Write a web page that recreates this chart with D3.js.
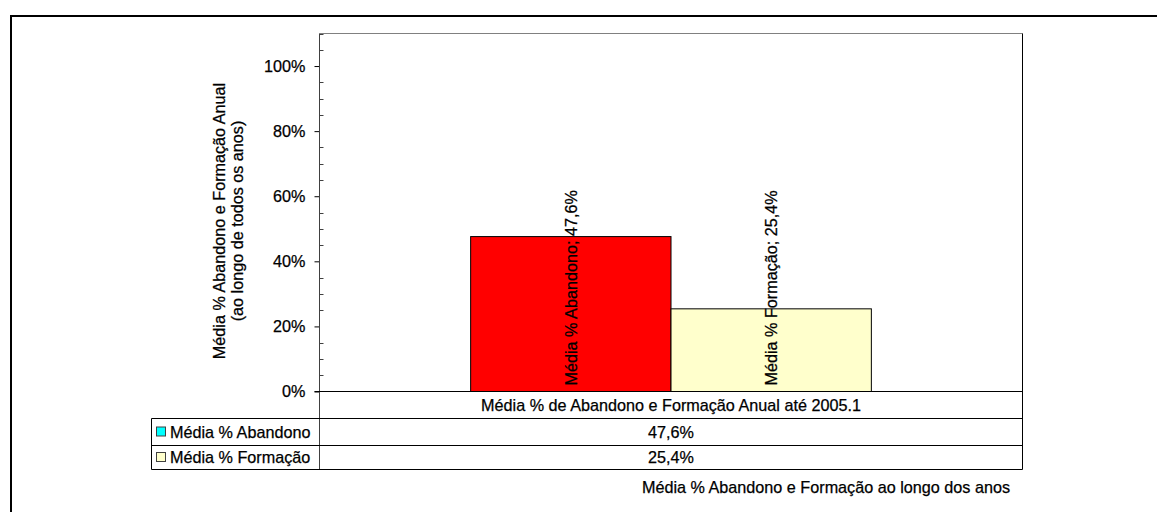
<!DOCTYPE html>
<html>
<head>
<meta charset="utf-8">
<script src="https://cdn.jsdelivr.net/npm/d3@7"></script>
<style>
  html, body { margin: 0; padding: 0; background: #fff; }
  svg { display: block; }
  text { font-family: "Liberation Sans", Arial, sans-serif; fill: #000; stroke: #000; stroke-width: 0.25px; }
</style>
</head>
<body>
<div id="chart"></div>
<script>
// Chart data
const categories = ["Média % de Abandono e Formação Anual até 2005.1"];
const seriesNames = ["Média % Abandono", "Média % Formação"];
const seriesValues = [0.476, 0.254];
const barColors = ["#ff0000", "#ffffcc"];
const legendColors = ["#00ffff", "#ffffcc"];
const yTicks = [0, 0.2, 0.4, 0.6, 0.8, 1.0];
const yTitleLines = ["Média % Abandono e Formação Anual", "(ao longo de todos os anos)"];
const chartTitle = "Média % Abandono e Formação ao longo dos anos";

const W = 1157, H = 512;
const fontSize = 16.2;

// Portuguese number format (decimal comma)
const pt = d3.formatLocale({ decimal: ",", thousands: ".", grouping: [3], currency: ["€", ""] });
const pct1 = pt.format(".1%");
const pct0 = pt.format(".0%");

const svg = d3.select("#chart").append("svg")
  .attr("width", W).attr("height", H);

// Outer frame (top and left edges visible)
svg.append("path")
  .attr("d", `M11,${H} L11,16 L${W},16`)
  .attr("fill", "none").attr("stroke", "#000").attr("stroke-width", 2);

// Plot area
const plot = { left: 319.5, right: 1022.5, top: 33.5, bottom: 391.5 };

const y = d3.scaleLinear().domain([0, 1.1]).range([plot.bottom, plot.top]);

const xCat = d3.scaleBand()
  .domain(categories)
  .range([plot.left, plot.right])
  .paddingInner(0.43)
  .paddingOuter(0.215);

const xSer = d3.scaleBand()
  .domain(seriesNames)
  .range([0, xCat.bandwidth()]);

// Plot area border
svg.append("line")
  .attr("x1", plot.left).attr("x2", plot.right)
  .attr("y1", plot.top).attr("y2", plot.top)
  .attr("stroke", "#808080").attr("stroke-width", 1);
svg.append("line")
  .attr("x1", plot.right).attr("x2", plot.right)
  .attr("y1", plot.top).attr("y2", 469.5)
  .attr("stroke", "#000").attr("stroke-width", 1);

// Bars
const bars = svg.append("g");
categories.forEach(cat => {
  seriesNames.forEach((s, i) => {
    bars.append("rect")
      .attr("x", xCat(cat) + xSer(s))
      .attr("y", y(seriesValues[i]))
      .attr("width", xSer.bandwidth())
      .attr("height", y(0) - y(seriesValues[i]))
      .attr("fill", barColors[i])
      .attr("stroke", "#000")
      .attr("stroke-width", 1);
  });
});

// Data labels, rotated, anchored at the bar base
categories.forEach(cat => {
  seriesNames.forEach((s, i) => {
    const cx = xCat(cat) + xSer(s) + xSer.bandwidth() / 2;
    const by = y(0) - 6;
    svg.append("text")
      .attr("transform", `translate(${cx},${by}) rotate(-90)`)
      .attr("dy", "0.36em")
      .attr("text-anchor", "start")
      .style("font-size", fontSize + "px")
      .text(`${s}; ${pct1(seriesValues[i])}`);
  });
});

// Y axis
const yAxis = d3.axisLeft(y)
  .tickValues(yTicks)
  .tickFormat(pct0)
  .tickSize(5)
  .tickPadding(9);
const gy = svg.append("g")
  .attr("transform", `translate(${plot.left},0)`)
  .call(yAxis);
gy.select(".domain").remove();
gy.selectAll(".tick line").attr("stroke", "#000");
gy.selectAll(".tick text")
  .style("font-size", fontSize + "px")
  .style("font-family", "'Liberation Sans', Arial, sans-serif")
  .attr("fill", "#000");

// Minor ticks
const minor = d3.range(0, 1.1001, 0.05).filter(v => !yTicks.some(t => Math.abs(t - v) < 1e-9));
svg.append("g").selectAll("line").data(minor).join("line")
  .attr("x1", plot.left).attr("x2", plot.left + 4)
  .attr("y1", d => Math.round(y(d)) + 0.5).attr("y2", d => Math.round(y(d)) + 0.5)
  .attr("stroke", "#404040").attr("stroke-width", 1);

// Y axis line (continues into the data table)
svg.append("line")
  .attr("x1", plot.left).attr("x2", plot.left)
  .attr("y1", plot.top).attr("y2", 469.5)
  .attr("stroke", "#404040").attr("stroke-width", 1);

// X axis line
svg.append("line")
  .attr("x1", plot.left - 5).attr("x2", plot.right)
  .attr("y1", plot.bottom).attr("y2", plot.bottom)
  .attr("stroke", "#000").attr("stroke-width", 1);

// Y axis title
const yTitle = svg.append("text")
  .attr("transform", "translate(228,221) rotate(-90)")
  .attr("text-anchor", "middle")
  .style("font-size", fontSize + "px");
yTitle.selectAll("tspan").data(yTitleLines).join("tspan")
  .attr("x", 0)
  .attr("dy", (d, i) => i === 0 ? "-0.2em" : "1.12em")
  .text(d => d);

// Data table
const table = { left: 151.5, split: plot.left, right: plot.right, rows: [plot.bottom, 418.5, 445.5, 469.5] };
const tg = svg.append("g");
// Category row text
tg.append("text")
  .attr("x", xCat(categories[0]) + xCat.bandwidth() / 2)
  .attr("y", (table.rows[0] + table.rows[1]) / 2)
  .attr("dy", "0.36em")
  .attr("text-anchor", "middle")
  .style("font-size", fontSize + "px")
  .text(categories[0]);

// Horizontal rules
[table.rows[1], table.rows[2], table.rows[3]].forEach(ry => {
  tg.append("line")
    .attr("x1", table.left).attr("x2", table.right)
    .attr("y1", ry).attr("y2", ry)
    .attr("stroke", "#000").attr("stroke-width", 1);
});
// Left edge of legend column
tg.append("line")
  .attr("x1", table.left).attr("x2", table.left)
  .attr("y1", table.rows[1]).attr("y2", table.rows[3])
  .attr("stroke", "#000").attr("stroke-width", 1);

// Series rows: legend key, name, value
seriesNames.forEach((s, i) => {
  const top = table.rows[i + 1], bot = table.rows[i + 2];
  const mid = (top + bot) / 2;
  tg.append("rect")
    .attr("x", 156.5).attr("y", mid - 5)
    .attr("width", 9).attr("height", 9)
    .attr("fill", legendColors[i])
    .attr("stroke", "#404040").attr("stroke-width", 1);
  tg.append("text")
    .attr("x", 170).attr("y", mid)
    .attr("dy", "0.36em")
    .style("font-size", fontSize + "px")
    .text(s);
  tg.append("text")
    .attr("x", xCat(categories[0]) + xCat.bandwidth() / 2)
    .attr("y", mid)
    .attr("dy", "0.36em")
    .attr("text-anchor", "middle")
    .style("font-size", fontSize + "px")
    .text(pct1(seriesValues[i]));
});

// Chart title below the table
svg.append("text")
  .attr("x", 826).attr("y", 487)
  .attr("dy", "0.36em")
  .attr("text-anchor", "middle")
  .style("font-size", fontSize + "px")
  .text(chartTitle);
</script>
</body>
</html>
